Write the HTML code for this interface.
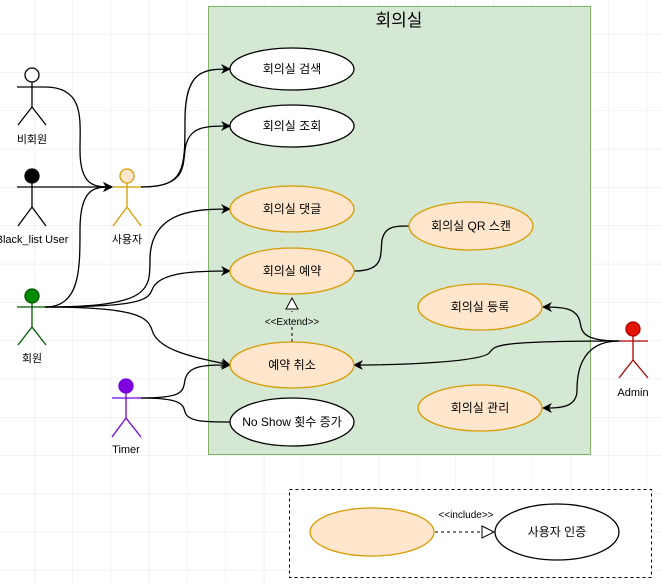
<!DOCTYPE html>
<html><head><meta charset="utf-8"><style>
html,body{margin:0;padding:0;background:#fff}
svg{display:block}
text{font-family:"Liberation Sans","Noto Sans CJK KR",sans-serif;font-size:11px;fill:#000}
.e{font-size:12px}
</style></head><body>
<svg width="662" height="584" viewBox="0 0 662 584" xmlns="http://www.w3.org/2000/svg">
<defs>
<pattern id="g" x="34" y="34" width="38.3" height="38.3" patternUnits="userSpaceOnUse">
<path d="M0 0H38.3M0 0V38.3" stroke="#e8e8e8" stroke-width="1" fill="none"/>
</pattern>
<marker id="a" viewBox="0 0 10 10" refX="9" refY="5" markerWidth="10" markerHeight="10" orient="auto" markerUnits="userSpaceOnUse">
<path d="M0 0L10 5L0 10L3 5Z" fill="#000"/>
</marker>
</defs>
<rect width="662" height="584" fill="url(#g)"/>
<rect x="208.5" y="6.5" width="382" height="448" fill="#d5e8d4" stroke="#82b366"/>
<text x="399" y="26" text-anchor="middle" style="font-size:17px">회의실</text>

<g fill="none" stroke="#000" stroke-width="1.3">
<path d="M45 87C85 87 80 120 80 150C80 187 95 187 112 187" marker-end="url(#a)"/>
<path d="M45 187H112" marker-end="url(#a)"/>
<path d="M45 307C80 307 80 270 80 230C80 187 95 187 112 187" marker-end="url(#a)"/>
<path d="M141 187C185 187 185 170 185 120C185 69 205 69 230 69" marker-end="url(#a)"/>
<path d="M141 187C183 187 183 170 185 150C188 126 205 126 230 126" marker-end="url(#a)"/>
<path d="M45 307C150 307 150 290 150 260C150 209 200 209 230 209" marker-end="url(#a)"/>
<path d="M45 307C140 307 148 300 152 290C158 271 200 271 230 271" marker-end="url(#a)"/>
<path d="M45 307C140 307 148 318 152 330C158 352 200 358 230 365" marker-end="url(#a)"/>
<path d="M141 398C183 398 183 392 185 380C188 365 205 365 230 365" marker-end="url(#a)"/>
<path d="M141 398C183 398 183 405 185 412C188 422 205 422 230 422"/>
<path d="M354 271C385 271 380 255 382 240C385 226 395 226 409 226"/>
<path d="M619 341C580 341 582 330 580 322C577 307 560 307 543 307" marker-end="url(#a)"/>
<path d="M619 341C500 341 495 345 490 352C485 362 400 365 354 365" marker-end="url(#a)"/>
<path d="M619 341C577 341 577 380 577 390C577 408 560 408 543 408" marker-end="url(#a)"/>
</g>
<path d="M292 342V311" stroke="#000" stroke-dasharray="3 3" fill="none"/>
<path d="M286 309L292 298L298 309Z" fill="#fff" stroke="#000"/>
<rect x="264" y="315" width="56" height="12" fill="#d5e8d4"/>
<text x="292" y="325" text-anchor="middle" style="font-size:10px">&lt;&lt;Extend&gt;&gt;</text>

<g stroke-width="1.3">
<ellipse cx="292" cy="69" rx="62" ry="21" fill="#fff" stroke="#000"/>
<ellipse cx="292" cy="126" rx="62" ry="21" fill="#fff" stroke="#000"/>
<ellipse cx="292" cy="209" rx="62" ry="23" fill="#ffe6cc" stroke="#d79b00"/>
<ellipse cx="292" cy="271" rx="62" ry="23" fill="#ffe6cc" stroke="#d79b00"/>
<ellipse cx="292" cy="365" rx="62" ry="23" fill="#ffe6cc" stroke="#d79b00"/>
<ellipse cx="292" cy="422" rx="62" ry="24" fill="#fff" stroke="#000"/>
<ellipse cx="471" cy="226" rx="62" ry="24" fill="#ffe6cc" stroke="#d79b00"/>
<ellipse cx="480" cy="307" rx="62" ry="23" fill="#ffe6cc" stroke="#d79b00"/>
<ellipse cx="480" cy="408" rx="62" ry="23" fill="#ffe6cc" stroke="#d79b00"/>
</g>
<g text-anchor="middle" class="e">
<text class="e" x="292" y="73">회의실 검색</text>
<text class="e" x="292" y="130">회의실 조회</text>
<text class="e" x="292" y="213">회의실 댓글</text>
<text class="e" x="292" y="275">회의실 예약</text>
<text class="e" x="292" y="369">예약 취소</text>
<text class="e" x="292" y="426">No Show 횟수 증가</text>
<text class="e" x="471" y="230">회의실 QR 스캔</text>
<text class="e" x="480" y="311">회의실 등록</text>
<text class="e" x="480" y="412">회의실 관리</text>
</g>

<g fill="none" stroke-width="1.3">
<g stroke="#000"><circle cx="32" cy="75" r="7" fill="#fff"/><path d="M32 82V107M17 87H45M32 107L18 125M32 107L46 125"/></g>
<g stroke="#000"><circle cx="32" cy="176" r="7" fill="#000"/><path d="M32 183V207M17 187H45M32 207L18 226M32 207L46 226"/></g>
<g stroke="#d79b00"><circle cx="127" cy="176" r="7" fill="#ffe6cc"/><path d="M127 183V207M113 187H141M127 207L113 226M127 207L141 226"/></g>
<g stroke="#005700"><circle cx="32" cy="296" r="7" fill="#008a00"/><path d="M32 303V327M17 307H45M32 327L18 345M32 327L46 345"/></g>
<g stroke="#7000e0"><circle cx="126" cy="386" r="7" fill="#8000e0"/><path d="M126 393V418M112 398H141M126 418L112 437M126 418L141 437"/></g>
<g stroke="#b20000"><circle cx="633" cy="329" r="7" fill="#e51400"/><path d="M633 336V360M619 341H648M633 360L619 378M633 360L648 378"/></g>
</g>
<g text-anchor="middle">
<text x="32" y="143">비회원</text>
<text x="32" y="243">Black_list User</text>
<text x="127" y="243">사용자</text>
<text x="32" y="362">회원</text>
<text x="126" y="453">Timer</text>
<text x="633" y="396">Admin</text>
</g>

<rect x="289.5" y="489.5" width="362" height="88" fill="#fff" stroke="#000" stroke-dasharray="3 3"/>
<ellipse cx="372" cy="532" rx="62" ry="24" fill="#ffe6cc" stroke="#d79b00" stroke-width="1.3"/>
<ellipse cx="557" cy="532" rx="62" ry="28" fill="#fff" stroke="#000" stroke-width="1.3"/>
<path d="M435 532H482" stroke="#000" stroke-dasharray="3 3"/>
<path d="M482 526L494 532L482 538Z" fill="#fff" stroke="#000"/>
<text x="466" y="518" text-anchor="middle" style="font-size:10px">&lt;&lt;include&gt;&gt;</text>
<text class="e" x="557" y="536" text-anchor="middle">사용자 인증</text>
</svg>
</body></html>
